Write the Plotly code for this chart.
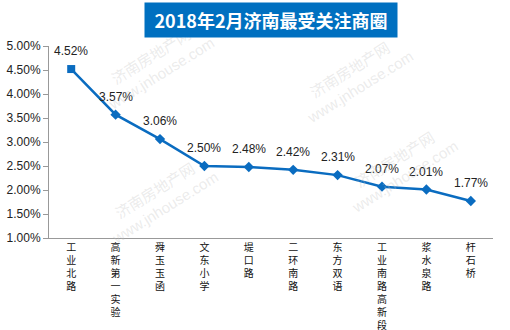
import plotly.graph_objects as go

categories = ["工业北路", "高新第一实验", "舜玉玉函", "文东小学", "堤口路",
              "二环南路", "东方双语", "工业南路高新段", "浆水泉路", "杆石桥"]
values = [0.0452, 0.0357, 0.0306, 0.0250, 0.0248, 0.0242, 0.0231, 0.0207, 0.0201, 0.0177]
labels = ["4.52%", "3.57%", "3.06%", "2.50%", "2.48%", "2.42%", "2.31%", "2.07%", "2.01%", "1.77%"]
title = "2018年2月济南最受关注商圈"
ytick_vals = [0.01, 0.015, 0.02, 0.025, 0.03, 0.035, 0.04, 0.045, 0.05]

blue = "#0A6CC0"
font_fam = "Liberation Sans, Noto Sans CJK SC, sans-serif"
cjk = "Noto Sans CJK SC, sans-serif"

vert_labels = ["<br>".join(list(c)) for c in categories]
symbols = ["square"] + ["diamond"] * (len(categories) - 1)

fig = go.Figure()
fig.add_trace(go.Scatter(
    x=categories, y=values, mode="lines+markers",
    line=dict(color=blue, width=2.5),
    marker=dict(color=blue, size=8, symbol=symbols),
    hoverinfo="skip", showlegend=False,
))

for c, v, t in zip(categories, values, labels):
    fig.add_annotation(x=c, y=v, text=t, showarrow=False, yshift=18,
                       font=dict(size=12, color="#222", family=font_fam))

# watermarks
wm = "济南房地产网<br>www.jnhouse.com"
for (px, py) in [(0.24, 0.9), (0.25, 0.2), (0.69, 0.83), (0.79, 0.36)]:
    fig.add_annotation(xref="paper", yref="paper", x=px, y=py, text=wm, showarrow=False,
                       xanchor="center", yanchor="middle",
                       textangle=-32, font=dict(size=15, color="rgba(190,190,190,0.3)",
                                                family=font_fam))

# title box
fig.add_annotation(xref="paper", yref="paper", x=0.5, y=1.0, yanchor="bottom",
                   xanchor="center", showarrow=False, yshift=8,
                   text="<b>" + title + "</b>",
                   font=dict(size=18, color="white", family=cjk),
                   bgcolor="#0070C0", width=250, height=32, borderpad=1)

fig.update_layout(
    width=510, height=330,
    margin=dict(l=49, r=17, t=46, b=92),
    paper_bgcolor="white", plot_bgcolor="white",
    font=dict(family=font_fam, size=12, color="#222"),
)
fig.update_xaxes(
    tickvals=categories, ticktext=vert_labels, tickangle=0, automargin=False,
    showline=True, linecolor="#999", linewidth=1, showgrid=False,
    ticks="", tickfont=dict(size=10, family=cjk, color="#111"),
    range=[-0.5, len(categories) - 0.5],
)
fig.update_yaxes(
    range=[0.01, 0.05], tickvals=ytick_vals, tickformat=".2%", automargin=False,
    showline=True, linecolor="#999", linewidth=1, showgrid=False,
    ticks="outside", ticklen=5, tickcolor="#999", zeroline=False,
    tickfont=dict(size=12, color="#222"),
)

fig.write_html("out.html")
